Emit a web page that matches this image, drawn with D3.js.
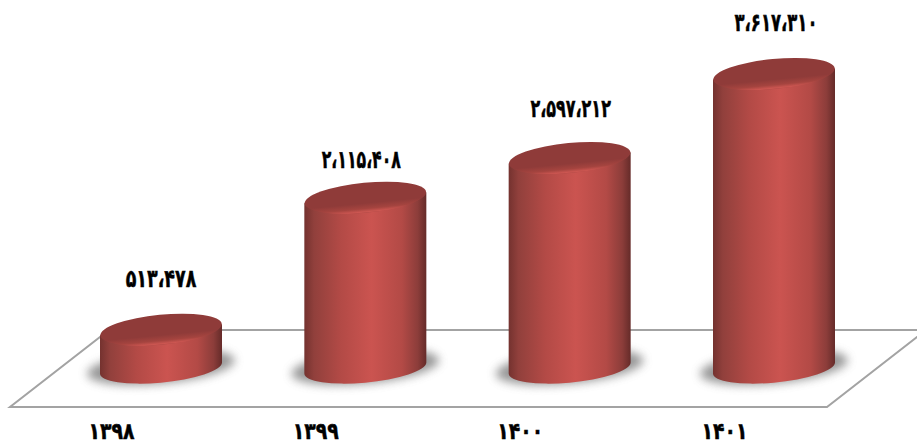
<!DOCTYPE html>
<html lang="fa">
<head>
<meta charset="utf-8">
<title>chart</title>
<script src="https://cdnjs.cloudflare.com/ajax/libs/d3/7.8.5/d3.min.js"></script>
<style>
  html, body { margin: 0; padding: 0; background: #fff; }
  svg { display: block; }
  text { font-family: "DejaVu Sans", sans-serif; font-weight: bold; fill: #000; stroke: #000; stroke-width: 0.5px; }
</style>
</head>
<body>
<div id="chart"></div>
<script>
const years = ["۱۳۹۸", "۱۳۹۹", "۱۴۰۰", "۱۴۰۱"];
const values = [513478, 2115408, 2597212, 3617310];
const valueLabels = ["۵۱۳،۴۷۸", "۲،۱۱۵،۴۰۸", "۲،۵۹۷،۲۱۲", "۳،۶۱۷،۳۱۰"];

const width = 917, height = 445;
const rx = 61, ry = 14.5, tilt = -5.5; // ellipse of the cylinders
const edge = 5.5;                      // vertical offset of the ellipse sides
const baseY = 368;                     // centre of the bottom ellipses
const labelGap = [51, 38, 50, 52];     // label distance above the top of each bar
const labelShift = [0, -4, 1, 2];      // label offset from the bar centre
const labelSqueeze = [0.7, 0.63, 0.64, 0.66]; // labels are narrower than the font
const yearSqueeze = 0.82;

const x = d3.scalePoint().domain(years).range([161, 774]);
const y = d3.scaleLinear().domain([0, d3.max(values)]).range([372, 74]);

const svg = d3.select("#chart").append("svg")
    .attr("width", width)
    .attr("height", height);

const defs = svg.append("defs");

// body of the cylinder: dark at the sides, light in the middle
const bodyGrad = defs.append("linearGradient").attr("id", "body");
[[0, "#74322f"], [0.08, "#91403c"], [0.3, "#b34a46"], [0.55, "#cb5450"], [0.8, "#b34a46"], [0.93, "#8c3d3a"], [1, "#652b29"]]
    .forEach(s => bodyGrad.append("stop").attr("offset", s[0]).attr("stop-color", s[1]));

// top face, with the lighter rim at the front
const topGrad = defs.append("linearGradient").attr("id", "top")
    .attr("x1", 0).attr("y1", 0).attr("x2", 0).attr("y2", 1);
[[0, "#8f3b39"], [0.68, "#8f3b39"], [0.86, "#a5443f"], [0.97, "#cc5651"], [1, "#b54b47"]]
    .forEach(s => topGrad.append("stop").attr("offset", s[0]).attr("stop-color", s[1]));

defs.append("filter").attr("id", "blur")
    .attr("x", "-30%").attr("y", "-60%").attr("width", "160%").attr("height", "220%")
    .append("feGaussianBlur").attr("stdDeviation", 5);

// floor
svg.append("polygon")
    .attr("points", "10,407 827,407 926,330 109,330")
    .style("fill", "#fff")
    .style("stroke", "#a3a3a3")
    .style("stroke-width", 2);

const bars = svg.selectAll(".bar")
    .data(values)
    .enter()
    .append("g")
    .attr("class", "bar")
    .attr("transform", (d, i) => `translate(${x(years[i])},0)`);

// shadow on the floor
bars.append("ellipse")
    .attr("cy", baseY - 1)
    .attr("rx", rx + 13)
    .attr("ry", ry + 2)
    .attr("transform", `rotate(${tilt} 0 ${baseY})`)
    .style("fill", "#6a6a6a")
    .style("opacity", 0.7)
    .attr("filter", "url(#blur)");

// side of the cylinder
bars.append("path")
    .attr("d", d => `M${-rx},${y(d) + edge} L${-rx},${baseY + edge}
        A${rx},${ry} ${tilt} 0 0 ${rx},${baseY - edge} L${rx},${y(d) - edge} Z`)
    .style("fill", "url(#body)");

// top of the cylinder
bars.append("ellipse")
    .attr("cy", d => y(d))
    .attr("rx", rx)
    .attr("ry", ry + 0.5)
    .attr("transform", d => `rotate(${tilt} 0 ${y(d)})`)
    .style("fill", "url(#top)");

// value labels
bars.append("text")
    .attr("transform", (d, i) => `translate(${labelShift[i]},${y(d) - labelGap[i]}) scale(${labelSqueeze[i]},1)`)
    .attr("dy", "0.35em")
    .attr("text-anchor", "middle")
    .style("font-size", "25px")
    .text((d, i) => valueLabels[i]);

// category axis
const axis = svg.append("g")
    .attr("transform", "translate(-50,432)")
    .call(d3.axisBottom(x).tickSize(0).tickPadding(0));
axis.select(".domain").remove();
axis.selectAll("text")
    .attr("y", 0)
    .attr("dy", "0.3em")
    .attr("transform", `scale(${yearSqueeze},1)`)
    .style("font-size", "23px");
axis.attr("font-family", null).attr("font-size", null);
</script>
</body>
</html>
